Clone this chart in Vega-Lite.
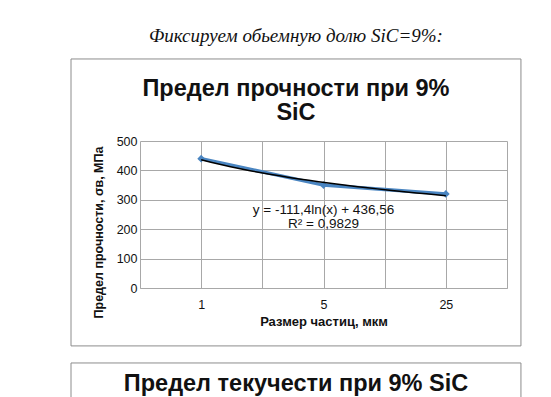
{
  "$schema": "https://vega.github.io/schema/vega-lite/v6.json",
  "width": 367,
  "height": 147,
  "autosize": {"type": "none"},
  "padding": {"left": 140, "top": 141, "right": 44, "bottom": 109},
  "background": "white",
  "title": {
    "text": "Фиксируем обьемную долю SiC=9%:",
    "font": "Liberation Serif",
    "fontStyle": "italic",
    "fontWeight": "normal",
    "fontSize": 19,
    "color": "#111111",
    "anchor": "middle",
    "frame": "bounds",
    "offset": 12
  },
  "config": {
    "view": {"stroke": null},
    "font": "Liberation Sans",
    "text": {"font": "Liberation Sans", "color": "#111111"}
  },
  "resolve": {"axis": {"x": "independent", "y": "independent"}},
  "datasets": {
    "strength": [
      {"idx": 1, "size": "1", "sigma": 440},
      {"idx": 2, "size": "5", "sigma": 350},
      {"idx": 3, "size": "25", "sigma": 320}
    ],
    "one": [{"k": 1}]
  },
  "layer": [
    {
      "data": {"name": "strength"},
      "mark": {"type": "line", "color": "#4A85C1", "strokeWidth": 3.5},
      "encoding": {
        "x": {
          "field": "idx",
          "type": "quantitative",
          "scale": {"domain": [0.5, 3.5], "nice": false, "zero": false},
          "axis": {
            "values": [0.5, 1, 1.5, 2, 2.5, 3, 3.5],
            "labelExpr": "datum.value == 1 ? '1' : datum.value == 2 ? '5' : datum.value == 3 ? '25' : ''",
            "labelOverlap": false,
            "labelFlush": false,
            "grid": true,
            "gridColor": "#a8a8a8",
            "gridOpacity": 1,
            "ticks": false,
            "domain": true,
            "domainColor": "#a8a8a8",
            "labelFont": "Liberation Sans",
            "labelFontSize": 12.5,
            "labelColor": "#111111",
            "labelPadding": 10,
            "title": "Размер частиц, мкм",
            "titleFont": "Liberation Sans",
            "titleFontSize": 13,
            "titleFontWeight": "bold",
            "titleColor": "#111111",
            "titlePadding": 5
          }
        },
        "y": {
          "field": "sigma",
          "type": "quantitative",
          "scale": {"domain": [0, 500], "nice": false, "zero": true},
          "axis": {
            "values": [0, 100, 200, 300, 400, 500],
            "labelOverlap": false,
            "grid": true,
            "gridColor": "#a8a8a8",
            "gridOpacity": 1,
            "ticks": false,
            "domain": false,
            "labelFont": "Liberation Sans",
            "labelFontSize": 12.5,
            "labelColor": "#111111",
            "labelPadding": 3,
            "title": "Предел прочности, σв, МПа",
            "titleFont": "Liberation Sans",
            "titleFontSize": 12.5,
            "titleFontWeight": "bold",
            "titleColor": "#111111",
            "titlePadding": 11,
            "titleY": 91
          }
        }
      }
    },
    {
      "data": {"name": "strength"},
      "mark": {"type": "point", "shape": "diamond", "filled": true, "size": 60, "color": "#4A85C1", "opacity": 1},
      "encoding": {
        "x": {"field": "idx", "type": "quantitative", "axis": null},
        "y": {"field": "sigma", "type": "quantitative", "axis": null}
      }
    },
    {
      "data": {"name": "strength"},
      "transform": [
        {"regression": "sigma", "on": "idx", "method": "log", "extent": [1, 3]}
      ],
      "mark": {"type": "line", "color": "#000000", "strokeWidth": 1.5},
      "encoding": {
        "x": {"field": "idx", "type": "quantitative", "axis": null},
        "y": {"field": "sigma", "type": "quantitative", "axis": null}
      }
    },
    {
      "data": {"name": "one"},
      "mark": {
        "type": "text",
        "text": ["y = -111,4ln(x) + 436,56", "R² = 0,9829"],
        "font": "Liberation Sans",
        "fontSize": 13.5,
        "lineHeight": 14,
        "align": "center",
        "baseline": "alphabetic",
        "color": "#111111"
      },
      "encoding": {
        "x": {"datum": 2, "type": "quantitative", "axis": null},
        "y": {"datum": 252, "type": "quantitative", "axis": null}
      }
    },
    {
      "data": {"name": "one"},
      "mark": {"type": "rect", "fill": "transparent", "stroke": "#8c8c8c", "strokeWidth": 1, "clip": false},
      "encoding": {
        "x": {"datum": -0.064, "type": "quantitative", "axis": null},
        "x2": {"datum": 3.614},
        "y": {"datum": 779, "type": "quantitative", "axis": null},
        "y2": {"datum": -197}
      }
    },
    {
      "data": {"name": "one"},
      "mark": {"type": "rect", "fill": "transparent", "stroke": "#8c8c8c", "strokeWidth": 1, "clip": false},
      "encoding": {
        "x": {"datum": -0.064, "type": "quantitative", "axis": null},
        "x2": {"datum": 3.614},
        "y": {"datum": -255, "type": "quantitative", "axis": null},
        "y2": {"datum": -520}
      }
    },
    {
      "data": {"name": "one"},
      "mark": {
        "type": "text",
        "text": ["Предел прочности при 9%", "SiC"],
        "font": "Liberation Sans",
        "fontSize": 23.5,
        "fontWeight": "bold",
        "lineHeight": 24,
        "align": "center",
        "baseline": "alphabetic",
        "color": "#111111",
        "clip": false
      },
      "encoding": {
        "x": {"datum": 1.775, "type": "quantitative", "axis": null},
        "y": {"datum": 653, "type": "quantitative", "axis": null}
      }
    },
    {
      "data": {"name": "one"},
      "mark": {
        "type": "text",
        "text": "Предел текучести при 9% SiC",
        "font": "Liberation Sans",
        "fontSize": 23.5,
        "fontWeight": "bold",
        "align": "center",
        "baseline": "alphabetic",
        "color": "#111111",
        "clip": false
      },
      "encoding": {
        "x": {"datum": 1.775, "type": "quantitative", "axis": null},
        "y": {"datum": -350, "type": "quantitative", "axis": null}
      }
    }
  ]
}
